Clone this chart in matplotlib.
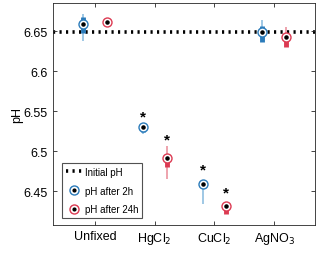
import matplotlib.pyplot as plt
from matplotlib.lines import Line2D
from matplotlib.legend_handler import HandlerTuple

plt.rcParams['font.family'] = ['Liberation Sans', 'DejaVu Sans']

groups = ['Unfixed', 'HgCl$_2$', 'CuCl$_2$', 'AgNO$_3$']
initial_ph = 6.6485

# pH after 2h: median, box low/high, whisker low/high
med_2h = [6.6595, 6.5300, 6.4585, 6.6490]
q1_2h = [6.6480, 6.5240, 6.4560, 6.6370]
q3_2h = [6.6680, 6.5310, 6.4630, 6.6570]
wlo_2h = [6.6380, 6.5210, 6.4340, 6.6360]
whi_2h = [6.6710, 6.5310, 6.4640, 6.6640]

# pH after 24h
med_24h = [6.6620, 6.4910, 6.4320, 6.6425]
q1_24h = [6.6620, 6.4800, 6.4220, 6.6300]
q3_24h = [6.6620, 6.4890, 6.4300, 6.6460]
wlo_24h = [6.6620, 6.4650, 6.4220, 6.6300]
whi_24h = [6.6620, 6.5070, 6.4320, 6.6550]

# significance stars (2h, 24h); None = no star
star_2h = [None, 6.5430, 6.4770, None]
star_24h = [None, 6.5150, 6.4480, None]

blue = '#2b7bba'
red = '#dc3a52'
light_blue = '#8fbfe0'
light_red = '#eb93a0'

fig = plt.figure(figsize=(3.2, 2.55), dpi=100)
ax = fig.add_axes([0.166, 0.114, 0.818, 0.870])

ax.axhline(initial_ph, color='black', linestyle=(0, (0.6, 1.2)), linewidth=2.6, zorder=1)


def draw(xs, med, q1, q3, wlo, whi, stars, c, lc):
    ax.vlines(xs, wlo, whi, color=lc, linewidth=1.2, zorder=2)
    ax.vlines(xs, q1, q3, color=c, linewidth=3.5, zorder=3)
    ax.scatter(xs, med, s=42, facecolor='white', edgecolor=c, linewidth=1.0, zorder=4)
    ax.scatter(xs, med, s=5, color='black', zorder=5)
    for x, s in zip(xs, stars):
        if s is not None:
            ax.text(x, s, '*', ha='center', va='center', fontsize=11, fontweight='bold')


pos = [1, 2, 3, 4]
draw([p - 0.2 for p in pos], med_2h, q1_2h, q3_2h, wlo_2h, whi_2h, star_2h, blue, light_blue)
draw([p + 0.2 for p in pos], med_24h, q1_24h, q3_24h, wlo_24h, whi_24h, star_24h, red, light_red)

ax.set_xlim(0.3, 4.68)
ax.set_ylim(6.408, 6.685)
ax.set_xticks(pos)
ax.set_xticklabels(groups, fontsize=9)
ax.set_yticks([6.45, 6.5, 6.55, 6.6, 6.65])
ax.set_yticklabels(['6.45', '6.5', '6.55', '6.6', '6.65'], fontsize=9)
ax.set_ylabel('pH', fontsize=9, labelpad=0)
ax.tick_params(direction='in', length=3, width=0.6, top=True, right=True, colors='#262626', labelcolor='black', pad=4)
for sp in ax.spines.values():
    sp.set_linewidth(0.6)
    sp.set_color('#262626')


def handle(c):
    box = Line2D([], [], color=c, marker='s', markersize=5, linestyle='none')
    ring = Line2D([], [], marker='o', markersize=6.5, markerfacecolor='white', markeredgecolor=c, linestyle='none')
    dot = Line2D([], [], marker='o', markersize=2, color='black', linestyle='none')
    return (box, ring, dot)


h0 = Line2D([], [], color='black', linestyle=(0, (0.6, 1.2)), linewidth=2.6)
leg = ax.legend([h0, handle(blue), handle(red)], ['Initial pH', 'pH after 2h', 'pH after 24h'],
                handler_map={tuple: HandlerTuple(ndivide=1, pad=0)},
                loc='lower left', bbox_to_anchor=(0.035, 0.03), fontsize=7, frameon=True,
                fancybox=False, edgecolor='#262626', handlelength=1.6, handletextpad=0.3,
                borderpad=0.4, labelspacing=0.9, borderaxespad=0)
leg.get_frame().set_linewidth(0.8)

fig.savefig('out.png', dpi=100)
